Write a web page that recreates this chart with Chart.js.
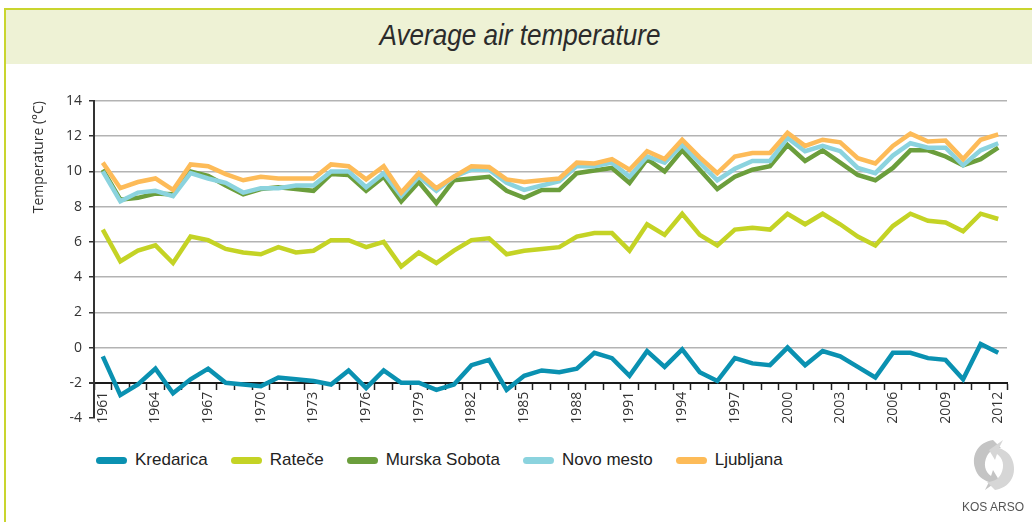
<!DOCTYPE html>
<html>
<head>
<meta charset="utf-8">
<script src="https://cdn.jsdelivr.net/npm/chart.js@4.4.1/dist/chart.umd.min.js"></script>
<style>
  html, body { margin: 0; padding: 0; background: #fff; }
  body { width: 1032px; height: 522px; position: relative; overflow: hidden; font-family: "Liberation Sans", Arial, sans-serif; }
  .frame { position: absolute; left: 4px; top: 8px; width: 1040px; height: 530px; border-left: 2px solid #c9d52e; border-top: 2px solid #c9d52e; }
  .band { position: absolute; left: 0; top: 0; right: 0; height: 54px; background: #eef2d5; }
  .band h1 { margin: 0; position: absolute; left: 0; width: 1028px; top: 9px; text-align: center; font: italic 400 29px "Liberation Sans", Arial, sans-serif; color: #2b2b2b; transform: scaleX(0.9); }
  .chart-box { position: absolute; left: 0; top: 64px; width: 1032px; height: 376px; }
  #legend { position: absolute; left: 96px; top: 450px; display: flex; gap: 23px; font-size: 17px; color: #222; }
  #legend .item { display: flex; align-items: center; }
  #legend .swatch { width: 31px; height: 7px; border-radius: 4px; margin-right: 8px; }
  .logo { position: absolute; left: 958px; top: 436px; width: 70px; text-align: center; }
  .logo span { display: block; font-size: 12px; color: #555; margin-top: 2px; }
</style>
</head>
<body>
<div class="frame"><div class="band"><h1>Average air temperature</h1></div></div>
<div class="chart-box"><canvas id="chart"></canvas></div>
<div id="legend"></div>
<div class="logo">
  <svg width="60" height="58" viewBox="0 0 60 58">
    <path d="M30 4 C16 6 8 18 12 32 C14 40 20 44 26 46 L22 54 L36 44 L30 34 L28 40 C22 36 20 28 24 20 C27 14 33 12 38 12 Z" fill="#c4c4c4"/>
    <path d="M32 54 C46 52 54 40 50 26 C48 18 42 14 36 12 L40 4 L26 14 L32 24 L34 18 C40 22 42 30 38 38 C35 44 29 46 24 46 Z" fill="#d6d6d6"/>
  </svg>
  <span>KOS ARSO</span>
</div>
<script>
const years = [1961, 1962, 1963, 1964, 1965, 1966, 1967, 1968, 1969, 1970,
  1971, 1972, 1973, 1974, 1975, 1976, 1977, 1978, 1979, 1980,
  1981, 1982, 1983, 1984, 1985, 1986, 1987, 1988, 1989, 1990,
  1991, 1992, 1993, 1994, 1995, 1996, 1997, 1998, 1999, 2000,
  2001, 2002, 2003, 2004, 2005, 2006, 2007, 2008, 2009, 2010,
  2011, 2012];

const kredarica = [-0.5, -2.7, -2.1, -1.2, -2.6, -1.8, -1.2, -2.0, -2.1, -2.2,
  -1.7, -1.8, -1.9, -2.1, -1.3, -2.3, -1.3, -2.0, -2.0, -2.4,
  -2.1, -1.0, -0.7, -2.4, -1.6, -1.3, -1.4, -1.2, -0.3, -0.6,
  -1.6, -0.2, -1.1, -0.1, -1.4, -1.9, -0.6, -0.9, -1.0, 0.0,
  -1.0, -0.2, -0.5, -1.1, -1.7, -0.3, -0.3, -0.6, -0.7, -1.8,
  0.2, -0.3];

const ratece = [6.7, 4.9, 5.5, 5.8, 4.8, 6.3, 6.1, 5.6, 5.4, 5.3,
  5.7, 5.4, 5.5, 6.1, 6.1, 5.7, 6.0, 4.6, 5.4, 4.8,
  5.5, 6.1, 6.2, 5.3, 5.5, 5.6, 5.7, 6.3, 6.5, 6.5,
  5.5, 7.0, 6.4, 7.6, 6.4, 5.8, 6.7, 6.8, 6.7, 7.6,
  7.0, 7.6, 7.0, 6.3, 5.8, 6.9, 7.6, 7.2, 7.1, 6.6,
  7.6, 7.3];

const murskaSobota = [10.1, 8.4, 8.5, 8.75, 8.7, 10.0, 9.75, 9.2, 8.7, 9.0,
  9.1, 9.0, 8.9, 9.85, 9.8, 8.9, 9.7, 8.3, 9.4, 8.2,
  9.5, 9.6, 9.7, 8.9, 8.5, 8.95, 8.95, 9.9, 10.05, 10.2,
  9.35, 10.7, 10.0, 11.2, 10.1, 9.0, 9.7, 10.1, 10.3, 11.5,
  10.6, 11.2, 10.5, 9.8, 9.5, 10.2, 11.2, 11.2, 10.85, 10.35,
  10.7, 11.35];

const novoMesto = [10.0, 8.3, 8.8, 8.9, 8.6, 9.9, 9.6, 9.35, 8.8, 9.05,
  9.05, 9.2, 9.2, 10.0, 10.0, 9.1, 9.9, 8.6, 9.7, 8.9,
  9.7, 10.1, 10.1, 9.35, 8.95, 9.2, 9.45, 10.3, 10.3, 10.5,
  9.7, 10.85, 10.5, 11.5, 10.5, 9.5, 10.15, 10.6, 10.6, 11.9,
  11.15, 11.45, 11.15, 10.2, 9.9, 10.9, 11.6, 11.35, 11.35, 10.35,
  11.2, 11.6];

const ljubljana = [10.5, 9.05, 9.4, 9.6, 8.95, 10.4, 10.3, 9.85, 9.5, 9.7,
  9.6, 9.6, 9.6, 10.4, 10.3, 9.55, 10.3, 8.8, 9.9, 9.05,
  9.7, 10.3, 10.25, 9.55, 9.4, 9.5, 9.6, 10.5, 10.45, 10.7,
  10.1, 11.15, 10.7, 11.8, 10.8, 9.9, 10.85, 11.05, 11.05, 12.2,
  11.45, 11.8, 11.65, 10.75, 10.45, 11.45, 12.15, 11.7, 11.75, 10.7,
  11.8, 12.1];

const stationNames = ['Kredarica', 'Rateče', 'Murska Sobota', 'Novo mesto', 'Ljubljana'];
const stationColors = ['#0a91b1', '#c4d325', '#6b9e3c', '#8bd3de', '#fdbb58'];
const stationData = [kredarica, ratece, murskaSobota, novoMesto, ljubljana];

const tickFont = { family: '"Open Sans", "Liberation Sans", sans-serif', size: 14 };

const datasets = stationNames.map((name, i) => ({
  label: name,
  data: stationData[i],
  borderColor: stationColors[i],
  backgroundColor: stationColors[i],
  borderWidth: 4.5,
  pointRadius: 0,
  tension: 0,
  fill: false,
  order: stationNames.length - i   // later stations drawn on top
}));

const ctx = document.getElementById('chart').getContext('2d');
const chart = new Chart(ctx, {
  type: 'line',
  data: { labels: years, datasets: datasets },
  options: {
    responsive: true,
    maintainAspectRatio: false,
    animation: false,
    layout: { padding: { top: 37, right: 25, bottom: 22, left: 0 } },
    plugins: {
      legend: { display: false },
      tooltip: { enabled: false }
    },
    scales: {
      x: {
        position: { y: -2 },
        offset: true,
        grid: { offset: true, drawOnChartArea: false, tickLength: 6, tickColor: '#222', tickWidth: 1.5 },
        border: { color: '#1a1a1a', width: 2 },
        ticks: {
          autoSkip: false,
          minRotation: 90,
          maxRotation: 90,
          padding: 3,
          color: '#333',
          font: tickFont,
          callback: (value, index) => index % 3 === 0 ? years[index] : ''
        }
      },
      y: {
        min: -4,
        max: 14,
        ticks: { stepSize: 2, padding: 7, color: '#333', font: tickFont },
        grid: {
          color: (c) => c.tick.value === -4 ? 'rgba(0,0,0,0)' : (c.tick.value === -2 ? '#1a1a1a' : '#b3b3b3'),
          lineWidth: (c) => c.tick.value === -2 ? 2 : 1.5,
          tickLength: 5,
          tickColor: '#333'
        },
        border: { color: '#333', width: 2 },
        title: {
          display: true,
          text: 'Temperature (°C)',
          align: 'end',
          color: '#333',
          font: tickFont,
          padding: { top: 31, bottom: 0 }
        },
        afterFit: (scale) => { scale.width = 94; }
      }
    }
  }
});

// legend built from the chart's datasets
const legendEl = document.getElementById('legend');
chart.data.datasets.forEach((ds) => {
  const item = document.createElement('div');
  item.className = 'item';
  const sw = document.createElement('span');
  sw.className = 'swatch';
  sw.style.background = ds.borderColor;
  const txt = document.createElement('span');
  txt.textContent = ds.label;
  item.appendChild(sw);
  item.appendChild(txt);
  legendEl.appendChild(item);
});
</script>
</body>
</html>
